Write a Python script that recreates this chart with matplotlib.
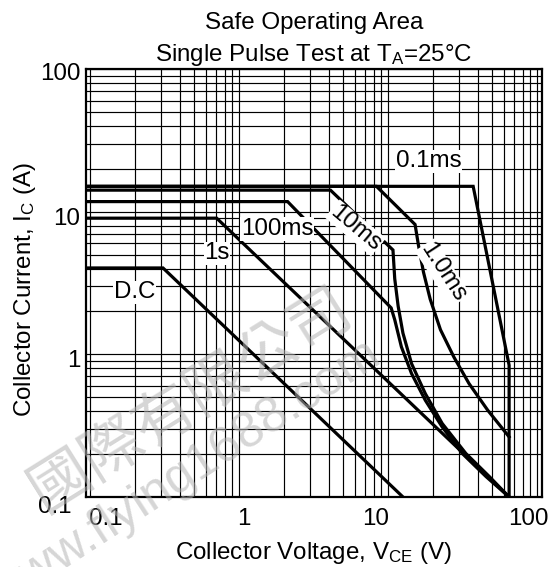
import matplotlib
matplotlib.use('Agg')
from matplotlib import pyplot as plt
from matplotlib.ticker import LogLocator, NullFormatter
import matplotlib.transforms as mtrans

plt.rcParams['font.family'] = ['Liberation Sans', 'DejaVu Sans']
plt.rcParams['mathtext.fontset'] = 'custom'
plt.rcParams['mathtext.rm'] = 'Liberation Sans'
plt.rcParams['mathtext.default'] = 'regular'

# curves (V_CE in volts, I_C in amps)
vce_dc = [0.09, 0.309, 12.6]
ic_dc = [4.04, 4.04, 0.1]

vce_1s = [0.09, 0.708, 65]
ic_1s = [9.03, 9.03, 0.1]

vce_100ms = [0.09, 2.12, 10.5, 11.1, 12.3, 14.4, 17.8, 23.1, 31.5, 45.5, 65]
ic_100ms = [11.8, 11.8, 2.12, 1.75, 1.13, 0.733, 0.477, 0.310, 0.202, 0.139, 0.1]

vce_10ms = [0.09, 4.11, 10.8, 11.1, 11.7, 12.6, 14.4, 17.8, 23.1, 33.3, 47.9, 65]
ic_10ms = [14.2, 14.2, 5.40, 3.39, 2.18, 1.41, 0.861, 0.531, 0.328, 0.202, 0.139, 0.1]

vce_1ms = [0.09, 8.37, 15.2, 16.0, 17.3, 19.2, 22.5, 27.7, 35.0, 46.7, 65]
ic_1ms = [15.1, 15.1, 8.15, 5.86, 3.78, 2.44, 1.49, 0.957, 0.624, 0.406, 0.264]

vce_01ms = [0.09, 37.3, 65, 65]
ic_01ms = [15.1, 15.1, 0.84, 0.1]

# curve labels: text, x, y, rotation
labels = [('0.1ms', 18.7, 22.6, 0),
          ('1.0ms', 23.3, 3.74, -57),
          ('10ms', 6.04, 7.72, -40),
          ('100ms', 1.81, 7.6, 0),
          ('1s', 0.712, 5.11, 0),
          ('D.C', 0.2, 2.73, 0)]

xticks = [0.1, 1, 10, 100]
xticklabels = ['0.1', '1', '10', '100']
yticks = [0.1, 1, 10, 100]
yticklabels = ['0.1', '1', '10', '100']

fs = 17.4
fig = plt.figure(figsize=(5.53, 5.67), dpi=100)
ax = fig.add_axes([0.1555, 0.1235, 0.824, 0.7543])
ax.set_xscale('log')
ax.set_yscale('log')
ax.set_xlim(0.094, 107.5)
ax.set_ylim(0.1, 100)

ax.xaxis.set_minor_locator(LogLocator(base=10, subs=range(2, 10)))
ax.yaxis.set_minor_locator(LogLocator(base=10, subs=range(2, 10)))
ax.xaxis.set_minor_formatter(NullFormatter())
ax.yaxis.set_minor_formatter(NullFormatter())
ax.grid(True, which='both', color='black', lw=0.85)
ax.set_axisbelow(True)

for v, i in [(vce_dc, ic_dc), (vce_1s, ic_1s), (vce_100ms, ic_100ms),
             (vce_10ms, ic_10ms), (vce_1ms, ic_1ms), (vce_01ms, ic_01ms)]:
    ax.plot(v, i, color='black', lw=2.3, solid_joinstyle='miter', zorder=3)

for txt, x, y, rot in labels:
    ax.text(x, y, txt, fontsize=fs, ha='center', va='center', rotation=rot,
            rotation_mode='anchor', zorder=4,
            bbox=dict(facecolor='white', edgecolor='none', pad=0.5))

ax.set_xticks(xticks)
ax.set_xticklabels(xticklabels)
ax.set_yticks(yticks)
ax.set_yticklabels(yticklabels)
ax.tick_params(which='both', length=0, labelsize=fs)
ax.tick_params(axis='x', pad=8)
ax.tick_params(axis='y', pad=4)

# the scanned labels sit a little off their grid lines
xoff = [16, 5, -12, -9]
for lab, dx in zip(ax.get_xticklabels(), xoff):
    lab.set_transform(lab.get_transform() + mtrans.ScaledTranslation(dx / 100, 0, fig.dpi_scale_trans))
yoff = [(-9, -8), (0, -4), (0, -5), (0, -2)]
for lab, (dx, dy) in zip(ax.get_yticklabels(), yoff):
    lab.set_transform(lab.get_transform() + mtrans.ScaledTranslation(dx / 100, dy / 100, fig.dpi_scale_trans))

for s in ax.spines.values():
    s.set_linewidth(1.6)

ax.set_title('Safe Operating Area\nSingle Pulse Test at T$_A$=25°C', fontsize=fs, pad=6, linespacing=1.4)
ax.set_xlabel('Collector Voltage, V$_{CE}$ (V)', fontsize=fs, labelpad=7)
ax.set_ylabel('Collector Current, I$_C$ (A)', fontsize=fs)
ax.yaxis.set_label_coords(-0.105, 0.484)

# watermark
fig.text(0.345, 0.295, '國際有限公司', fontsize=44, rotation=32, color='#b4b4b4', alpha=0.55,
         ha='center', va='center', family=['Noto Sans CJK TC', 'DejaVu Sans'], zorder=10)
fig.text(0.335, 0.162, 'www.flying1688.com', fontsize=36, rotation=33, color='#b4b4b4', alpha=0.55,
         ha='center', va='center', zorder=10)

fig.savefig('out.png', dpi=100)
